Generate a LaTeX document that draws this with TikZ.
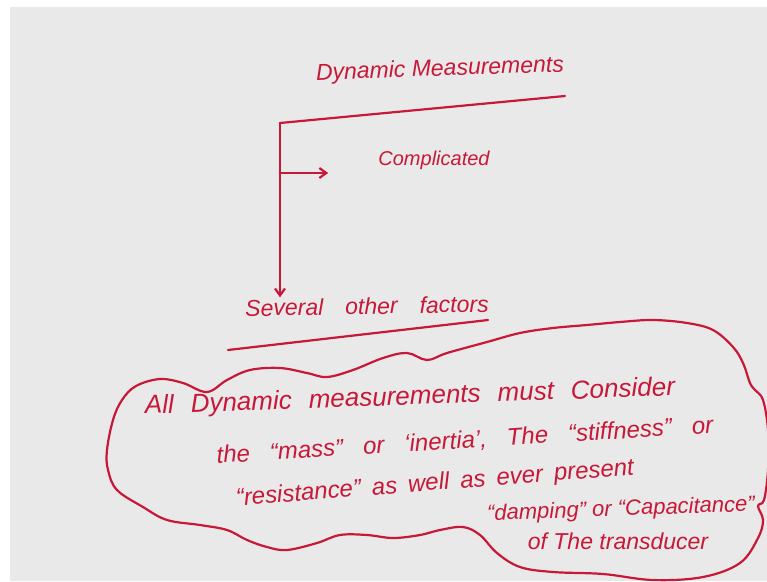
\documentclass[tikz,border=0pt]{standalone}
\usepackage{fontspec}
\setmainfont{Liberation Sans}
\usetikzlibrary{arrows.meta}
\definecolor{ink}{RGB}{200,24,56}
\definecolor{board}{RGB}{233,233,233}
\begin{document}
\begin{tikzpicture}[x=1pt,y=-1pt,
  inkline/.style={draw=ink,line width=2.2pt,line cap=round,line join=round},
  hand/.style={text=ink,inner sep=0pt,font=\fontsize{#1}{#1}\selectfont\itshape},
  hand/.default=24,
  wsp/.style={execute at begin node={\spaceskip=#1\relax}},
  tip/.style={-{Straight Barb[length=7pt,width=10pt]}}
]
\useasboundingbox (0,0) rectangle (767,581);
\fill[white] (0,0) rectangle (767,581);
\fill[board] (10,7) rectangle (767,581);
% header
\node[hand=23, rotate=2] (title) at (440,70) {Dynamic Measurements};
\coordinate (corner) at (280,123);
\coordinate (lineend) at (565,96);
\draw[inkline] (corner) -- (lineend);
\node[hand=20] (compl) at (434,160) {Complicated};
\coordinate (branch) at (280,173);
\draw[inkline,tip,shorten >=50pt] (branch) -- (branch -| compl.west);
\node[hand=23, wsp=22pt, rotate=1] (several) at (367,306) {Several other factors};
\draw[inkline,tip] (corner) -- (corner |- several.north);
\coordinate (ulA) at (228,350);
\coordinate (ulB) at (488,320);
\draw[inkline] (ulA) -- (ulB);
% cloud
\begin{scope}
\clip (10,7) rectangle (767,581);
\draw[inkline] plot[smooth cycle, tension=0.6] coordinates {
(107,450) (113,420) (122,400) (136,386) (160,379) (183,383) (207,392)
(227,380) (250,370) (280,368) (307,373) (327,377) (353,370) (383,358)
(407,353) (427,360) (447,353) (487,342) (520,333) (553,328) (587,325)
(620,322) (653,320) (687,323) (713,330) (733,347) (743,363) (750,383)
(755,390) (763,400) (768,430) (768,470) (764,500) (758,506) (763,520)
(758,538) (740,563) (703,577) (653,580) (603,574) (553,572) (520,567)
(497,553) (480,535) (463,527) (440,530) (420,535) (393,538) (367,535)
(340,535) (317,543) (287,550) (267,547) (247,540) (227,530) (200,525)
(167,520) (143,507) (117,490) (108,470)};
\end{scope}
\node[hand=26, wsp=17pt, rotate=2] (l1) at (410,398) {All Dynamic measurements must Consider};
\node[hand=24, wsp=20pt, rotate=3.5] (l2) at (465,441) {the “mass” or ‘inertia’, The “stiffness” or};
\node[hand=24, wsp=11pt, rotate=4.5] (l3) at (435,484) {“resistance” as well as ever present};
\node[hand=22, rotate=2] (l4) at (621,510) {“damping” or “Capacitance”};
\node[hand=23] (l5) at (618,541) {of The transducer};
\end{tikzpicture}
\end{document}
